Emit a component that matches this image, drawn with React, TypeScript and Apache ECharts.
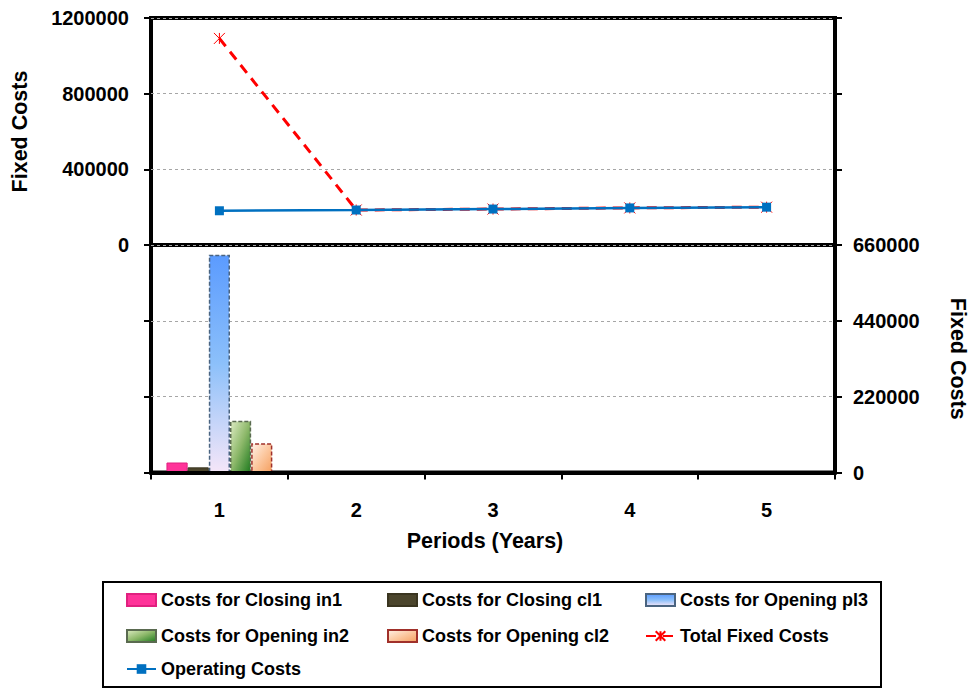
import React, { useEffect, useRef } from "react";
import * as echarts from "echarts";

const categories = ["1", "2", "3", "4", "5"];
const closingIn1 = [29000, 0, 0, 0, 0];
const closingCl1 = [15000, 0, 0, 0, 0];
const openingPl3 = [632000, 0, 0, 0, 0];
const openingIn2 = [150000, 0, 0, 0, 0];
const openingCl2 = [85000, 0, 0, 0, 0];
const totalFixedCosts = [1092000, 185000, 190000, 196000, 200000];
const operatingCosts = [181000, 185000, 190000, 196000, 200000];
const topTicks = { min: 0, max: 1200000, interval: 400000 };
const bottomTicks = { min: 0, max: 660000, interval: 220000 };

const FONT = "'Liberation Sans', Arial, sans-serif";

const tickStyle = {
  color: "#000",
  fontFamily: FONT,
  fontWeight: "bold" as const,
  fontSize: 20,
  formatter: (v: any) => String(v),
};
const nameStyle = { color: "#000", fontFamily: FONT, fontWeight: "bold" as const, fontSize: 21.5 };
const split = { show: true, lineStyle: { color: "#A6A6A6", type: [3, 3] as any, width: 1 } };
const ticks = { show: true, length: 7, lineStyle: { color: "#000", width: 2 } };

export default function App() {
  const ref = useRef<HTMLDivElement>(null);
  useEffect(() => {
    if (!ref.current) return;
    const chart = echarts.init(ref.current, null, { renderer: "svg" });
    const lg = (name: string, left: number, top: number, isBar: boolean) => ({
      data: [name],
      left,
      top,
      padding: 0,
      itemWidth: 29,
      itemHeight: 12,
      ...(isBar ? { icon: "rect" } : {}),
      selectedMode: false,
      textStyle: { color: "#000", fontFamily: FONT, fontWeight: "bold", fontSize: 18, lineHeight: 24 },
    });
    const barBase = (name: string, data: number[], itemStyle: any) => ({
      name,
      type: "bar",
      xAxisIndex: 1,
      yAxisIndex: 2,
      data,
      barGap: "0%",
      barCategoryGap: "22.6%",
      itemStyle,
    });
    chart.setOption({
      animation: false,
      backgroundColor: "#fff",
      grid: [
        {
          left: 151, right: 138, top: 18, height: 227, show: true,
          borderColor: "#000", borderWidth: 4, outerBoundsMode: "none", containLabel: false,
        },
        {
          left: 151, right: 138, top: 245, height: 227.5, show: true,
          borderColor: "#000", borderWidth: 4, outerBoundsMode: "none", containLabel: false,
        },
      ],
      xAxis: [
        {
          type: "category",
          gridIndex: 0,
          data: categories,
          axisLine: { show: false },
          axisTick: { show: false },
          axisLabel: { show: false },
        },
        {
          type: "category",
          gridIndex: 1,
          data: categories,
          z: 10,
          axisLine: { show: true, lineStyle: { color: "#000", width: 4 } },
          axisTick: { show: true, length: 7, lineStyle: { color: "#000", width: 2 } },
          axisLabel: { ...tickStyle, margin: 27 },
          name: "Periods (Years)",
          nameLocation: "middle",
          nameGap: 57,
          nameTextStyle: { ...nameStyle, padding: [0, 16, 0, 0] },
        },
      ],
      yAxis: [
        {
          type: "value",
          gridIndex: 0,
          position: "left",
          ...topTicks,
          axisLine: { show: false },
          axisTick: ticks,
          axisLabel: { ...tickStyle, margin: 22 },
          splitLine: split,
          name: "Fixed Costs",
          nameLocation: "middle",
          nameRotate: 90,
          nameGap: 120,
          nameTextStyle: nameStyle,
        },
        {
          type: "value",
          gridIndex: 0,
          position: "right",
          ...topTicks,
          axisLine: { show: false },
          axisTick: ticks,
          axisLabel: { show: false },
          splitLine: { show: false },
        },
        {
          type: "value",
          gridIndex: 1,
          position: "left",
          ...bottomTicks,
          axisLine: { show: false },
          axisTick: ticks,
          axisLabel: { show: false },
          splitLine: split,
        },
        {
          type: "value",
          gridIndex: 1,
          position: "right",
          ...bottomTicks,
          axisLine: { show: false },
          axisTick: ticks,
          axisLabel: { ...tickStyle, margin: 18 },
          splitLine: { show: false },
          name: "Fixed Costs",
          nameLocation: "middle",
          nameRotate: -90,
          nameGap: 112,
          nameTextStyle: nameStyle,
        },
      ],
      legend: [
        lg("Costs for Closing in1", 126, 588, true),
        lg("Costs for Closing cl1", 387, 588, true),
        lg("Costs for Opening pl3", 645, 588, true),
        lg("Costs for Opening in2", 126, 624, true),
        lg("Costs for Opening cl2", 387, 624, true),
        lg("Total Fixed Costs", 645, 624, false),
        lg("Operating Costs", 126, 657, false),
      ],
      graphic: [
        {
          type: "rect",
          shape: { x: 103, y: 582, width: 778, height: 105 },
          style: { fill: "none", stroke: "#000", lineWidth: 2 },
        },
      ],
      series: [
        barBase("Costs for Closing in1", closingIn1, { color: "#FF3399", borderColor: "#E0207F", borderWidth: 1 }),
        barBase("Costs for Closing cl1", closingCl1, { color: "#4B452C", borderColor: "#3A3520", borderWidth: 1 }),
        barBase("Costs for Opening pl3", openingPl3, {
          color: new echarts.graphic.LinearGradient(0, 0, 0, 1, [
            { offset: 0, color: "#5B9BFF" },
            { offset: 0.5, color: "#8CC0FA" },
            { offset: 1, color: "#F5E6F8" },
          ]),
          borderColor: "#4A6480",
          borderWidth: 1.5,
          borderType: [4, 2],
        }),
        barBase("Costs for Opening in2", openingIn2, {
          color: new echarts.graphic.LinearGradient(0, 0, 1, 1, [
            { offset: 0, color: "#DDEBC2" },
            { offset: 0.5, color: "#8DB86A" },
            { offset: 1, color: "#1E7A1E" },
          ]),
          borderColor: "#5A6A50",
          borderWidth: 1.5,
          borderType: [4, 2],
        }),
        barBase("Costs for Opening cl2", openingCl2, {
          color: new echarts.graphic.LinearGradient(0, 0, 1, 1, [
            { offset: 0, color: "#FFF0E6" },
            { offset: 0.5, color: "#FCC8A0" },
            { offset: 1, color: "#F5A060" },
          ]),
          borderColor: "#A0302A",
          borderWidth: 1.5,
          borderType: [4, 2],
        }),
        {
          name: "Total Fixed Costs",
          type: "line",
          xAxisIndex: 0,
          yAxisIndex: 0,
          data: totalFixedCosts,
          symbol: "path://M0,0L10,10M10,0L0,10M5,0L5,10",
          symbolSize: 11,
          lineStyle: { color: "#FF0000", width: 3, type: [10, 7] },
          itemStyle: { color: "#FF0000", borderColor: "#FF0000", borderWidth: 1 },
          z: 3,
        },
        {
          name: "Operating Costs",
          type: "line",
          xAxisIndex: 0,
          yAxisIndex: 0,
          data: operatingCosts,
          symbol: "rect",
          symbolSize: 9,
          lineStyle: { color: "#0070C0", width: 2.5 },
          itemStyle: { color: "#0070C0" },
          z: 4,
        },
      ],
    });
    return () => chart.dispose();
  }, []);
  return (
    <div
      ref={ref}
      style={{ position: "fixed", left: 0, top: 0, width: 973, height: 690, background: "#fff" }}
    />
  );
}
